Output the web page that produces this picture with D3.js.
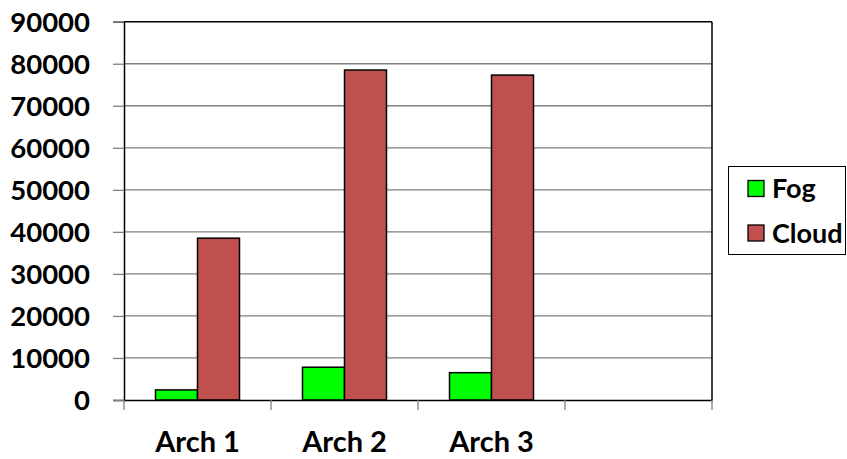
<!DOCTYPE html>
<html>
<head>
<meta charset="utf-8">
<script src="https://cdn.jsdelivr.net/npm/d3@7"></script>
<style>
  html, body { margin: 0; padding: 0; background: #fff; }
  svg { display: block; }
  text { font-family: Lato, "Open Sans", sans-serif; font-weight: bold; fill: #000; }
</style>
</head>
<body>
<svg id="chart" width="847" height="459"></svg>
<script>
// Category slots (the fourth slot is left empty)
const categories = ["Arch 1", "Arch 2", "Arch 3", ""];
const seriesNames = ["Fog", "Cloud"];
const fogValues = [2400, 7800, 6500];
const cloudValues = [38500, 78500, 77300];
const yTicks = [0, 10000, 20000, 30000, 40000, 50000, 60000, 70000, 80000, 90000];
const colors = { Fog: "#00FF00", Cloud: "#C0504D" };

const svg = d3.select("#chart");
const plot = { left: 124, right: 712, top: 21.7, bottom: 400 };

const x = d3.scaleBand().domain(categories.map((c, i) => i)).range([plot.left, plot.right]).paddingInner(0).paddingOuter(0);
const y = d3.scaleLinear().domain([0, 90000]).range([plot.bottom, plot.top]);

// Gridlines
svg.append("g").selectAll("line").data(yTicks.filter(t => t > 0 && t < 90000)).join("line")
  .attr("x1", plot.left).attr("x2", plot.right)
  .attr("y1", d => y(d)).attr("y2", d => y(d))
  .attr("stroke", "#808080").attr("stroke-width", 1.3);

// Plot border: top and right
svg.append("line").attr("x1", plot.left).attr("x2", plot.right).attr("y1", y(90000)).attr("y2", y(90000))
  .attr("stroke", "#000").attr("stroke-width", 1.5);
svg.append("line").attr("x1", plot.right).attr("x2", plot.right).attr("y1", y(90000)).attr("y2", plot.bottom)
  .attr("stroke", "#000").attr("stroke-width", 1.5);

// Bars
const inner = x.bandwidth();
const barW = inner / 3.5;
const sub = d3.scaleBand().domain(seriesNames).range([0, 2 * barW]);
const barData = [];
fogValues.forEach((v, i) => barData.push({ cat: i, s: "Fog", v }));
cloudValues.forEach((v, i) => barData.push({ cat: i, s: "Cloud", v }));
svg.append("g").selectAll("rect").data(barData).join("rect")
  .attr("x", d => x(d.cat) + (inner - 2 * barW) / 2 + sub(d.s))
  .attr("width", sub.bandwidth())
  .attr("y", d => y(d.v))
  .attr("height", d => y(0) - y(d.v))
  .attr("fill", d => colors[d.s])
  .attr("stroke", "#000").attr("stroke-width", 1.5);

// Y axis
const yAxis = svg.append("g").attr("transform", `translate(${plot.left},0)`)
  .call(d3.axisLeft(y).tickValues(yTicks).tickSize(11).tickPadding(23).tickFormat(d3.format("d")));
yAxis.select(".domain").attr("stroke", "#000").attr("stroke-width", 1.5);
yAxis.selectAll(".tick line").attr("stroke", "#808080").attr("stroke-width", 1.3);
yAxis.selectAll(".tick text").style("font-size", "27.5px").style("font-family", "Lato, sans-serif").style("font-weight", "bold").attr("dy", "0.36em");

// X axis
const xAxis = svg.append("g").attr("transform", `translate(0,${plot.bottom})`)
  .call(d3.axisBottom(x).tickSize(0).tickFormat(i => categories[i]).tickPadding(31));
xAxis.select(".domain").attr("stroke", "#000").attr("stroke-width", 1.5);
xAxis.selectAll(".tick text").style("font-size", "29px").style("font-family", "Lato, sans-serif").style("font-weight", "bold");
// Category boundary ticks
const bounds = categories.map((c, i) => x(i)).concat([plot.right]);
svg.append("g").selectAll("line").data(bounds).join("line")
  .attr("x1", d => d).attr("x2", d => d)
  .attr("y1", plot.bottom).attr("y2", plot.bottom + 10)
  .attr("stroke", "#808080").attr("stroke-width", 1.3);

// Legend
const legend = svg.append("g");
legend.append("rect").attr("x", 728.5).attr("y", 166.5).attr("width", 117).attr("height", 88)
  .attr("fill", "#fff").attr("stroke", "#000").attr("stroke-width", 1);
seriesNames.forEach((name, i) => {
  const cy = 188.5 + i * 44.5;
  legend.append("rect").attr("x", 748).attr("y", cy - 8).attr("width", 16).attr("height", 16)
    .attr("fill", colors[name]).attr("stroke", "#000").attr("stroke-width", 1.3);
  legend.append("text").attr("x", 772).attr("y", cy).attr("dy", "0.36em")
    .style("font-size", "27px").text(name);
});
</script>
</body>
</html>
